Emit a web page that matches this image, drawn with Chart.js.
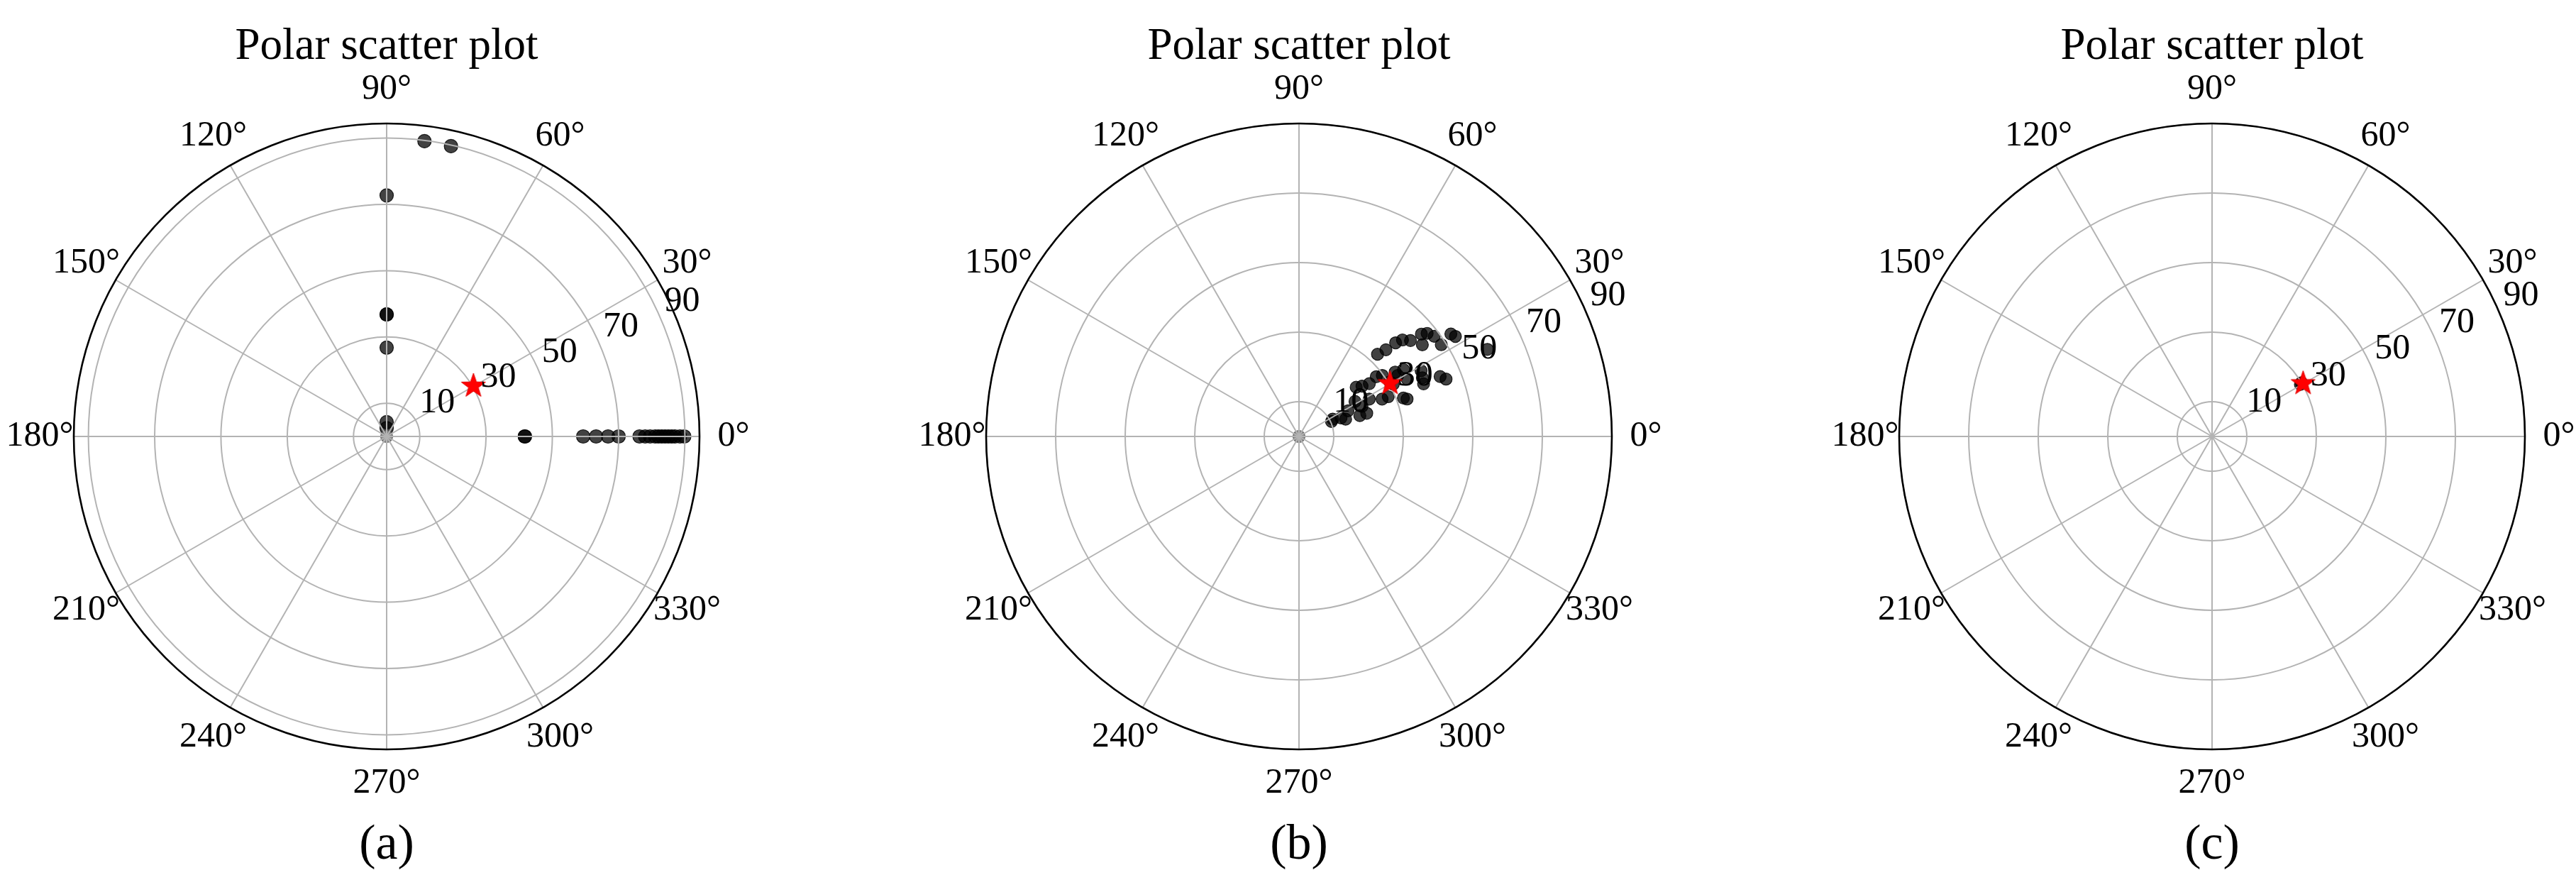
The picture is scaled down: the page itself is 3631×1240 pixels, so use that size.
<!DOCTYPE html>
<html>
<head>
<meta charset="utf-8">
<title>Polar scatter plot</title>
<script src="https://cdn.jsdelivr.net/npm/chart.js@4.4.1/dist/chart.umd.min.js"></script>
<style>
  html, body { margin: 0; padding: 0; background: #fff; }
  body { width: 3631px; height: 1240px; overflow: hidden; position: relative; }
  canvas { position: absolute; top: 0; }
</style>
</head>
<body>
<canvas id="panelA" width="1090" height="1240" style="left:0px"></canvas>
<canvas id="panelB" width="1090" height="1240" style="left:1286px"></canvas>
<canvas id="panelC" width="1090" height="1240" style="left:2573px"></canvas>
<script>
// ticks
const angleTicks = [0, 30, 60, 90, 120, 150, 180, 210, 240, 270, 300, 330]
const radialTicks = [10, 30, 50, 70, 90]

// panel (a): angle in degrees, radius
const thetaA = [90, 90, 90, 90, 90, 90, 82.7, 77.5,
    0, 0, 0, 0, 0, 0,
    0, 0, 0, 0, 0, 0, 0, 0, 0, 0, 0, 0]
const radiusA = [2.5, 4.3, 26.8, 36.8, 36.8, 72.7, 89.8, 89.7,
    41.7, 41.7, 59.3, 63.2, 66.8, 70.0,
    76.3, 78.0, 79.5, 81.0, 82.0, 83.0, 84.0, 85.0, 86.0, 87.0, 88.5, 89.8]

// panel (b)
const thetaB = [46.3, 44.9, 44.1, 43.0, 40.7, 39.9, 36.6, 38.8, 36.5, 32.8, 34.0, 32.6, 24.8,
    37.7, 36.2, 33.8, 32.6, 31.7, 28.0, 28.3, 25.4, 22.9, 23.0, 21.3,
    40.7, 38.6, 36.9, 24.2, 24.0, 20.2, 19.1, 32.0, 25.6, 18.9,
    27.6, 20.3, 23.8, 27.2, 28.0, 18.9, 24.7, 31.0, 29.0]
const radiusB = [32.7, 35.3, 38.7, 40.7, 42.3, 45.9, 44.2, 47.3, 48.4, 48.7, 52.7, 53.4, 59.7,
    28.1, 29.7, 33.3, 35.7, 33.4, 35.2, 39.9, 39.3, 38.9, 44.1, 45.4,
    21.7, 23.2, 25.3, 26.2, 28.1, 32.0, 32.9, 19.0, 20.1, 20.6,
    15.9, 14.3, 13.2, 10.9, 22.9, 18.5, 10.3, 30.5, 31.0]

// panel (c)
const thetaC = [30.5, 31.0]
const radiusC = [29.5, 30.0]

// points sitting at the pole
const originA = [0]
const originB = [0]
const originC = []

// red star
const targetTheta = [30.5]
const targetRadius = [30.4]

const GRID_COLOR = "#b3b3b3"
const FONT = "'Liberation Serif', 'Times New Roman', serif"
const LABEL_PAD = 48

function toXY(theta, radius) {
    return theta.map((t, i) => {
        const a = t * Math.PI / 180
        return { x: radius[i] * Math.cos(a), y: radius[i] * Math.sin(a) }
    })
}

function makeStar(outer, inner) {
    const size = Math.ceil(outer * 2 + 4)
    const c = document.createElement("canvas")
    c.width = size
    c.height = size
    const ctx = c.getContext("2d")
    ctx.translate(size / 2, size / 2 + 1)
    ctx.beginPath()
    for (let i = 0; i < 10; i++) {
        const rr = i % 2 === 0 ? outer : inner
        const a = -Math.PI / 2 + i * Math.PI / 5
        ctx.lineTo(rr * Math.cos(a), rr * Math.sin(a))
    }
    ctx.closePath()
    ctx.fillStyle = "#ff0000"
    ctx.fill()
    ctx.lineWidth = 1
    ctx.strokeStyle = "#e00000"
    ctx.stroke()
    return c
}

const starImg = makeStar(18, 7.2)

function polarGeometry(chart) {
    const sx = chart.scales.x
    const sy = chart.scales.y
    const cx = sx.getPixelForValue(0)
    const cy = sy.getPixelForValue(0)
    const unit = sx.getPixelForValue(1) - cx
    return { cx, cy, unit, rMax: sx.max }
}

function drawGrid(chart) {
    const { ctx } = chart
    const { cx, cy, unit, rMax } = polarGeometry(chart)
    ctx.save()
    ctx.strokeStyle = GRID_COLOR
    ctx.lineWidth = 2
    radialTicks.forEach(r => {
        ctx.beginPath()
        ctx.arc(cx, cy, r * unit, 0, Math.PI * 2)
        ctx.stroke()
    })
    angleTicks.forEach(deg => {
        const a = deg * Math.PI / 180
        ctx.beginPath()
        ctx.moveTo(cx, cy)
        ctx.lineTo(cx + rMax * unit * Math.cos(a), cy - rMax * unit * Math.sin(a))
        ctx.stroke()
    })
    // outer spine
    ctx.strokeStyle = "#000"
    ctx.lineWidth = 2.6
    ctx.beginPath()
    ctx.arc(cx, cy, rMax * unit, 0, Math.PI * 2)
    ctx.stroke()
    ctx.restore()
}

function drawTexts(chart, caption) {
    const { ctx } = chart
    const { cx, cy, unit, rMax } = polarGeometry(chart)
    ctx.save()
    ctx.fillStyle = "#000"
    ctx.textAlign = "center"

    // angle labels
    ctx.font = `50px ${FONT}`
    ctx.textBaseline = "middle"
    const rl = rMax * unit + LABEL_PAD
    angleTicks.forEach(deg => {
        const a = deg * Math.PI / 180
        ctx.fillText(`${deg}°`, cx + rl * Math.cos(a), cy - rl * Math.sin(a))
    })

    // radial labels along 22.5°
    const ra = 22.5 * Math.PI / 180
    radialTicks.forEach(r => {
        const x = cx + r * unit * Math.cos(ra) + 28
        const y = cy - r * unit * Math.sin(ra) - 29
        ctx.fillText(String(r), x, y)
    })

    // title + caption
    ctx.textBaseline = "alphabetic"
    ctx.font = `63px ${FONT}`
    ctx.fillText("Polar scatter plot", cx, 83)
    ctx.font = `70px ${FONT}`
    ctx.fillText(caption, cx, 1210)
    ctx.restore()
}

const polarPlugin = {
    id: "polarPlugin",
    beforeDatasetDraw(chart, args) {
        // grid sits above the scatter points but below the star
        if (chart.data.datasets[args.index].label === "target") drawGrid(chart)
    },
    afterDraw(chart, args, opts) {
        drawTexts(chart, opts.caption)
    },
}

function buildPanel(id, caption, rMax, theta, radius, origin, pointRadius) {
    const canvas = document.getElementById(id)
    const W = canvas.width
    const cxPx = 545
    const cyPx = 615
    const R = 441
    return new Chart(canvas, {
        type: "scatter",
        data: {
            datasets: [
                {
                    label: "samples",
                    data: toXY(theta, radius),
                    backgroundColor: "rgba(0,0,0,0.74)",
                    borderColor: "rgba(0,0,0,0.85)",
                    borderWidth: 1.2,
                    pointRadius: pointRadius,
                    order: 3,
                    clip: false,
                },
                {
                    label: "origin",
                    data: toXY(origin.map(() => 0), origin),
                    backgroundColor: "rgba(130,130,130,0.9)",
                    borderColor: "rgba(90,90,90,0.9)",
                    borderWidth: 1.2,
                    pointRadius: 8.5,
                    order: 2,
                    clip: false,
                },
                {
                    label: "target",
                    data: toXY(targetTheta, targetRadius),
                    pointStyle: starImg,
                    pointRadius: 10,
                    order: 1,
                    clip: false,
                },
            ],
        },
        options: {
            responsive: false,
            devicePixelRatio: 1,
            animation: false,
            events: [],
            layout: {
                padding: {
                    left: cxPx - R,
                    right: W - cxPx - R,
                    top: cyPx - R,
                    bottom: canvas.height - cyPx - R,
                },
            },
            scales: {
                x: { type: "linear", min: -rMax, max: rMax, display: false },
                y: { type: "linear", min: -rMax, max: rMax, display: false },
            },
            plugins: {
                legend: { display: false },
                tooltip: { enabled: false },
                title: { display: false },
                polarPlugin: { caption },
            },
        },
        plugins: [polarPlugin],
    })
}

buildPanel("panelA", "(a)", 94.4, thetaA, radiusA, originA, 9.5)
buildPanel("panelB", "(b)", 90, thetaB, radiusB, originB, 8.5)
buildPanel("panelC", "(c)", 90, thetaC, radiusC, originC, 8.5)
</script>
</body>
</html>
